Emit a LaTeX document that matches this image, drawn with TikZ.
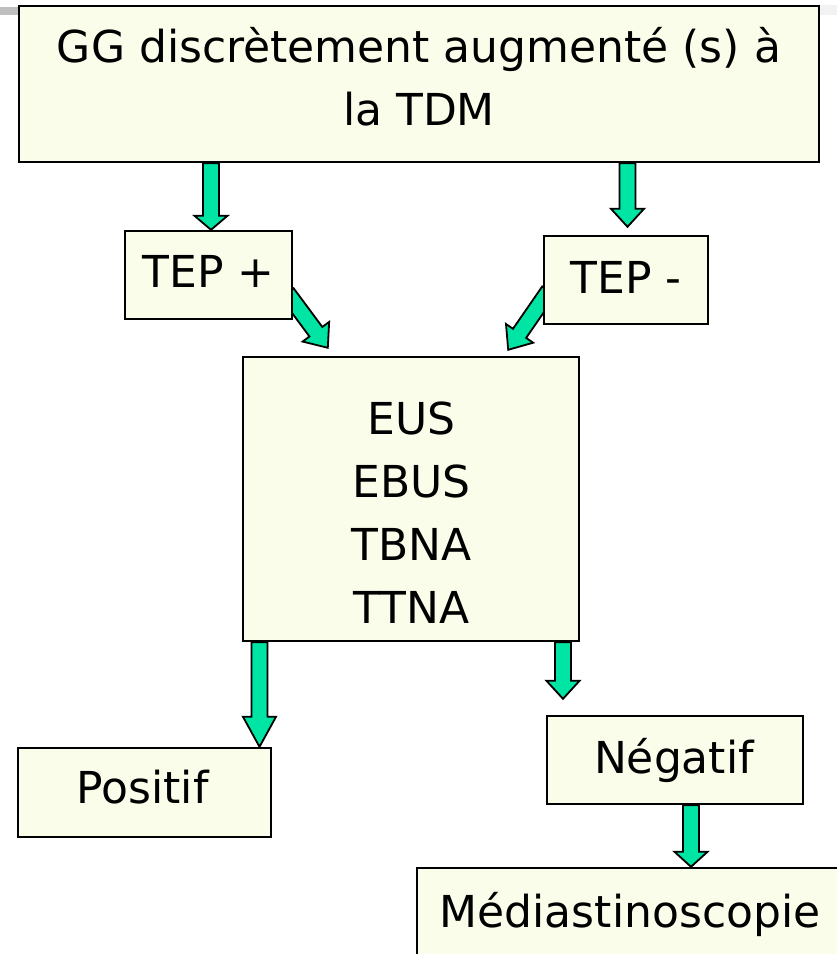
\documentclass[tikz,border=0pt]{standalone}
\usepackage{fontspec}
\setmainfont{DejaVu Sans}
\usetikzlibrary{calc,backgrounds}
\definecolor{boxfill}{RGB}{250,253,234}
\definecolor{arrowfill}{RGB}{0,228,164}
\tikzset{
  box/.style={draw=black,line width=2.4pt,fill=boxfill,inner sep=0pt},
  txt/.style={inner sep=0pt,font=\fontsize{44}{63}\selectfont,align=center},
  barrow/.style={fill=arrowfill,draw=black,line width=1.8pt,line join=miter}
}
\newcommand\blockarrow[3]{%
  \coordinate (ba-h) at ($#2!#3!#1$);
  \filldraw[barrow] ($#1!8pt!90:#2$) -- ($(ba-h)!8pt!90:#2$) -- ($(ba-h)!16.5pt!90:#2$) -- #2
    -- ($(ba-h)!16.5pt!-90:#2$) -- ($(ba-h)!8pt!-90:#2$) -- ($#1!8pt!-90:#2$) -- cycle;}
\begin{document}
\begin{tikzpicture}[x=1pt,y=-1pt]
\useasboundingbox (0,0) rectangle (837,954);
\clip (0,0) rectangle (837,954);
% small grey marks at the top
\fill[black!25] (0,7) rectangle (18,15);
\fill[black!5] (820,5) rectangle (837,15);
% boxes
\node[box,minimum width=800pt,minimum height=156pt] (tdm) at (419,84) {};
\node[box,minimum width=167pt,minimum height=88pt] (tepp) at (208.5,275) {};
\node[box,minimum width=164pt,minimum height=88pt] (tepm) at (626,280) {};
\node[box,minimum width=336pt,minimum height=284pt] (mid) at (411,499) {};
\node[box,minimum width=253pt,minimum height=89pt] (pos) at (144.5,792.5) {};
\node[box,minimum width=256pt,minimum height=88pt] (neg) at (675,760) {};
\node[box,minimum width=426pt,minimum height=87pt] (med) at (630,911.5) {};
% texts (anchor=base is the baseline of the last line)
\node[txt,anchor=base] (tdmtxt) at (419,125) {GG discrètement augmenté (s) à\\la TDM};
\node[txt,anchor=base] (tepptxt) at (208.5,287) {TEP +};
\node[txt,anchor=base] (tepmtxt) at (626,293) {TEP -};
\node[txt,anchor=base] (midtxt) at (411.5,623) {EUS\\EBUS\\TBNA\\TTNA};
\node[txt,anchor=base] (postxt) at (142.5,803) {Positif};
\node[txt,anchor=base] (negtxt) at (674,773) {Négatif};
\node[txt,anchor=base] (medtxt) at (630,927) {Médiastinoscopie};
% arrows
\begin{scope}[on background layer]
\coordinate (x1) at (211,0);
\coordinate (x2) at (627.5,0);
\coordinate (x5) at (259.5,0);
\coordinate (x6) at (563,0);
\coordinate (x7) at (691,0);
\coordinate (s1) at (tdm.south -| x1);
\coordinate (t1) at (tepp.north -| x1);
\coordinate (s2) at (tdm.south -| x2);
\coordinate (t2) at ($(tepm.north -| x2)+(0,-8)$);
\coordinate (s3) at ($(tepp.east)+(-6,18)$);
\coordinate (t3) at ($(mid.north west)+(86,-8)$);
\coordinate (s4) at ($(tepm.west)+(6,11)$);
\coordinate (t4) at ($(mid.north east)+(-72,-6)$);
\coordinate (s5) at (mid.south -| x5);
\coordinate (t5) at (pos.north -| x5);
\coordinate (s6) at (mid.south -| x6);
\coordinate (t6) at ($(neg.north -| x6)+(0,-16)$);
\coordinate (s7) at (neg.south -| x7);
\coordinate (t7) at (med.north -| x7);
\blockarrow{(s1)}{(t1)}{14pt}
\blockarrow{(s2)}{(t2)}{18pt}
\blockarrow{(s3)}{(t3)}{20pt}
\blockarrow{(s4)}{(t4)}{20pt}
\blockarrow{(s5)}{(t5)}{30pt}
\blockarrow{(s6)}{(t6)}{18pt}
\blockarrow{(s7)}{(t7)}{15pt}
\end{scope}
\end{tikzpicture}
\end{document}
